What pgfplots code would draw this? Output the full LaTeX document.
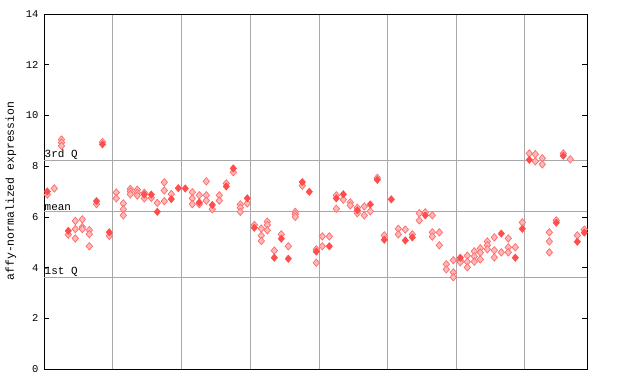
\documentclass[border=0pt]{standalone}
\usepackage{fontspec}
\setmainfont{Liberation Mono}
\usepackage{pgfplots}
\pgfplotsset{compat=1.18}
\definecolor{gridc}{HTML}{A8A8A8}
\definecolor{redS}{HTML}{FF4D4D}
\definecolor{redL}{HTML}{FF6A6A}
\definecolor{redF}{HTML}{FFB8B8}
\begin{document}
\begin{tikzpicture}[x=1bp,y=1bp]
\useasboundingbox (0,0) rectangle (640,384);
\begin{axis}[
  at={(44bp,15bp)}, anchor=south west,
  width=543bp, height=355bp, scale only axis,
  xmin=44, xmax=587, ymin=0, ymax=14,
  axis line style={black, line width=0.8pt},
  xtick={112.6,181,250,319,387.5,456,524.5},
  xticklabels={},
  xmajorgrids, major x tick style={draw=none},
  ytick={0,2,4,6,8,10,12,14},
  ytick pos=both, tick align=inside,
  major tick length=5bp,
  major y tick style={black, line width=0.6pt},
  yticklabel pos=left,
  extra y ticks={3.62,6.23,8.23},
  extra y tick labels={},
  extra y tick style={grid=major, major tick style={draw=none}},
  grid style={gridc, line width=0.8pt},
  /pgf/number format/assume math mode=true,
  ticklabel style={font=\fontsize{10.5}{12}\selectfont},
  yticklabel style={xshift=-2bp},
  clip=false,
]
\addplot[only marks, mark=diamond*, mark size=3.7bp,
  mark options={draw=redL, fill=redF, line width=0.7pt, xscale=1.15}] coordinates {
(47.3,6.88) (54.3,7.12) (61.5,9.05) (61.5,8.93) (61.5,8.8) (68.3,5.3)
(75.3,5.84) (75.3,5.52) (75.3,5.15) (82.3,5.9) (82.3,5.6) (82.3,5.52)
(89.3,5.48) (89.3,5.32) (89.3,4.84) (96.5,6.5) (102.5,8.95) (109.3,5.25)
(116.3,6.96) (116.3,6.73) (123.3,6.53) (123.3,6.3) (123.3,6.06)
(130.3,7.1) (130.3,7.0) (130.3,6.89) (137.3,7.07) (137.3,6.95) (137.3,6.84)
(144.3,6.95) (144.3,6.73) (151.3,6.75) (157.3,6.55)
(164.3,7.36) (164.3,7.04) (164.3,6.62) (171.3,6.9)
(192.3,6.97) (192.3,6.73) (192.3,6.5) (199.3,6.85) (199.3,6.5)
(206.3,7.4) (206.3,6.85) (206.3,6.64) (212.3,6.3) (219.3,6.85) (219.3,6.64)
(226.3,7.32) (233.3,7.76) (240.3,6.49) (240.3,6.36) (240.3,6.2) (247.3,6.53)
(254.3,5.68) (261.3,5.54) (261.3,5.26) (261.3,5.05)
(267.3,5.81) (267.3,5.68) (267.3,5.47) (274.3,4.67) (281.3,5.31) (288.3,4.84)
(295.3,6.2) (295.3,6.1) (295.3,6.0) (302.3,7.23)
(316.3,4.72) (316.3,4.19) (322.3,5.23) (322.3,4.84) (329.3,5.23)
(336.3,6.85) (336.3,6.32) (343.3,6.68) (350.3,6.57) (350.3,6.45)
(357.3,6.36) (357.3,6.14) (364.3,6.41) (364.3,6.06) (370.3,6.22)
(377.3,7.54) (384.3,5.27) (398.3,5.53) (398.3,5.31) (405.3,5.5) (412.3,5.31)
(419.3,6.14) (419.3,5.86) (425.3,6.18) (432.3,6.06) (432.3,5.39) (432.3,5.22)
(439.3,5.39) (439.3,4.88) (446.3,4.13) (446.3,3.93)
(453.3,4.29) (453.3,3.81) (453.3,3.62) (460.3,4.29) (460.3,4.21)
(467.3,4.47) (467.3,4.23) (467.3,4.01) (474.3,4.64) (474.3,4.44) (474.3,4.23)
(480.3,4.76) (480.3,4.59) (480.3,4.32) (487.3,5.03) (487.3,4.88) (487.3,4.72)
(494.3,5.19) (494.3,4.68) (494.3,4.4) (501.3,4.6)
(508.3,5.15) (508.3,4.8) (508.3,4.6) (515.3,4.8) (522.3,5.78)
(529.3,8.5) (535.3,8.47) (535.3,8.19) (542.3,8.31) (542.3,8.07)
(549.3,5.39) (549.3,5.03) (549.3,4.6) (556.3,5.86) (563.3,8.5) (570.3,8.27)
(577.3,5.27) (584.3,5.5)
};
\addplot[only marks, mark=diamond*, mark size=3.7bp,
  mark options={draw=redS, fill=redS, line width=0.5pt, xscale=1.15}] coordinates {
(47.3,7.0) (68.3,5.45) (96.5,6.62) (102.5,8.86) (109.3,5.39)
(144.3,6.88) (151.3,6.88) (157.3,6.2) (171.3,6.7) (178.3,7.13) (185.3,7.12)
(199.3,6.57) (212.3,6.47) (226.3,7.2) (233.3,7.91) (247.3,6.73)
(254.3,5.57) (274.3,4.39) (281.3,5.14) (288.3,4.35) (302.3,7.37) (309.3,6.99)
(316.3,4.63) (329.3,4.84) (336.3,6.73) (343.3,6.89) (357.3,6.26) (370.3,6.49)
(377.3,7.46) (384.3,5.1) (391.3,6.69) (405.3,5.07) (412.3,5.19) (425.3,6.06)
(460.3,4.39) (501.3,5.34) (515.3,4.39) (522.3,5.53) (529.3,8.25)
(556.3,5.77) (563.3,8.41) (577.3,5.02) (584.3,5.38)
};
\node[anchor=south west, inner sep=0.5bp, font=\fontsize{11}{12}\selectfont] at (axis cs:44,8.23) {3rd Q};
\node[anchor=south west, inner sep=0.5bp, font=\fontsize{11}{12}\selectfont] at (axis cs:44,6.23) {mean};
\node[anchor=south west, inner sep=0.5bp, font=\fontsize{11}{12}\selectfont] at (axis cs:44,3.62) {1st Q};
\end{axis}
\node[rotate=90, font=\fontsize{11.5}{12}\selectfont] at (11,193) {affy-normalized expression};
\end{tikzpicture}
\end{document}
